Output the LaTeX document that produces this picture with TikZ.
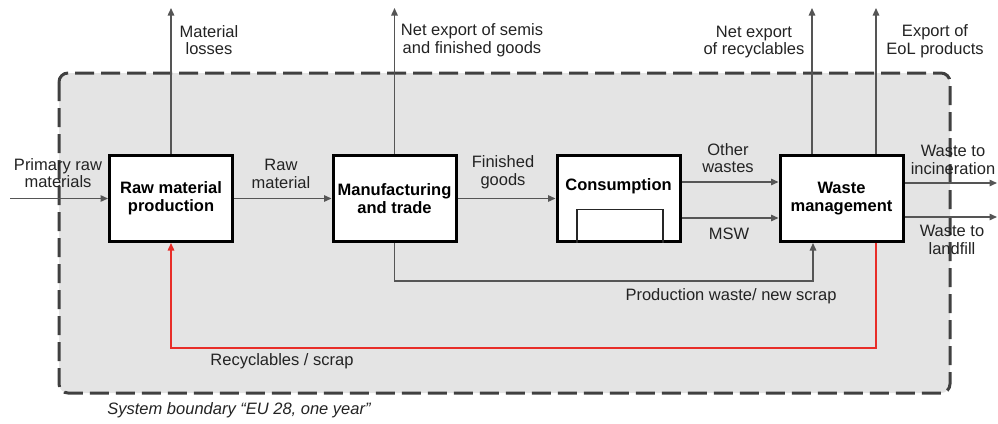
\documentclass[tikz,border=0pt]{standalone}
\usepackage{fontspec}
\setmainfont{Liberation Sans}
\usetikzlibrary{arrows.meta}
\definecolor{linegray}{RGB}{85,85,85}
\definecolor{bndgray}{RGB}{64,64,64}
\definecolor{fillgray}{RGB}{228,228,228}
\definecolor{recred}{RGB}{232,45,40}
\definecolor{txtgray}{RGB}{35,35,35}

\begin{document}
\begin{tikzpicture}[x=1pt,y=-1pt,
  proc/.style={draw=black, line width=3pt, fill=white, inner sep=0pt,
    minimum width=123pt, minimum height=86pt, align=center,
    font=\fontsize{16.5}{18}\selectfont\bfseries},
  proclbl/.style={inner sep=0pt, align=center, font=\fontsize{16.5}{18}\selectfont\bfseries},
  flow/.style={draw=linegray, line width=1.4pt, -{Triangle[length=7.5pt,width=6.5pt]}},
  redflow/.style={draw=recred, line width=1.4pt, -{Triangle[length=7.5pt,width=6.5pt]}},
  lbl/.style={inner sep=0pt, align=center, text=txtgray,
    font=\fontsize{16.5}{17.5}\selectfont},
  bnd/.style={draw=bndgray, line width=3pt, dash pattern=on 19pt off 7pt,
    fill=fillgray, rounded corners=9pt}]

\useasboundingbox (0,0) rectangle (998,423);

% system boundary
\draw[bnd] (59,73) rectangle (950,393);
\node[lbl, font=\fontsize{16.5}{17.5}\selectfont\itshape] (sysb) at (239,410)
  {System boundary “EU 28, one year”};

% process boxes
\node[proc] (rmp) at (171,198.5) {Raw material\\production};
\node[proc] (mt)  at (394.5,198.5) {Manufacturing\\and trade};
\node[proc] (con) at (618.5,198.5) {};
\node[proclbl] (conlbl) at (618.5,186) {Consumption};
\node[proc] (wm)  at (841.5,198.5) {Waste\\management};

% stock inside consumption
\coordinate (stl) at (577,209.5);
\coordinate (str) at (663,209.5);
\draw[line width=1.5pt, draw=black!85] (con.south -| stl) -- (stl) -- (str) -- (con.south -| str);

% free ends of the flows
\coordinate (pin)  at (10,198.5);
\coordinate (mlo)  at (171,8);
\coordinate (nes)  at (394.5,8);
\coordinate (ner)  at (812,8);
\coordinate (eol)  at (876,8);
\coordinate (owy)  at (0,182);
\coordinate (msy)  at (0,218);
\coordinate (inc)  at (997,183);
\coordinate (lfl)  at (997,217);
\coordinate (pwc)  at (813,281);
\coordinate (rcy)  at (876,348);

% flows
\draw[flow] (pin) -- (rmp.west);
\draw[flow] (rmp.north) -- (mlo);
\draw[flow] (rmp.east) -- (mt.west);
\draw[flow] (mt.north) -- (nes);
\draw[flow] (mt.east) -- (con.west);
\draw[flow] (con.east |- owy) -- (wm.west |- owy);
\draw[flow] (con.east |- msy) -- (wm.west |- msy);
\draw[flow] (wm.north -| ner) -- (ner);
\draw[flow] (wm.north -| eol) -- (eol);
\draw[flow] (wm.east |- inc) -- (inc);
\draw[flow] (wm.east |- lfl) -- (lfl);
\draw[flow] (mt.south) |- (pwc) -- (wm.south -| pwc);
\draw[redflow] (wm.south -| rcy) -- (rcy) -| (rmp.south);

% flow labels
\node[lbl] (lpri) at (58,173) {Primary raw\\materials};
\node[lbl] (lmlo) at (209,40) {Material\\losses};
\node[lbl] (lraw) at (281,174) {Raw\\material};
\node[lbl] (lnes) at (472,40) {Net export of semis\\and finished goods};
\node[lbl] (lfin) at (503,172) {Finished\\goods};
\node[lbl] (loth) at (728,158) {Other\\wastes};
\node[lbl] (lmsw) at (729,234) {MSW};
\node[lbl] (lner) at (754,42) {Net export\\of recyclables};
\node[lbl] (leol) at (935,41) {Export of\\EoL products};
\node[lbl] (linc) at (953,160) {Waste to\\incineration};
\node[lbl] (llfl) at (952,240) {Waste to\\landfill};
\node[lbl] (lpw)  at (731,296) {Production waste/ new scrap};
\node[lbl] (lrec) at (282,361) {Recyclables / scrap};
\end{tikzpicture}
\end{document}
